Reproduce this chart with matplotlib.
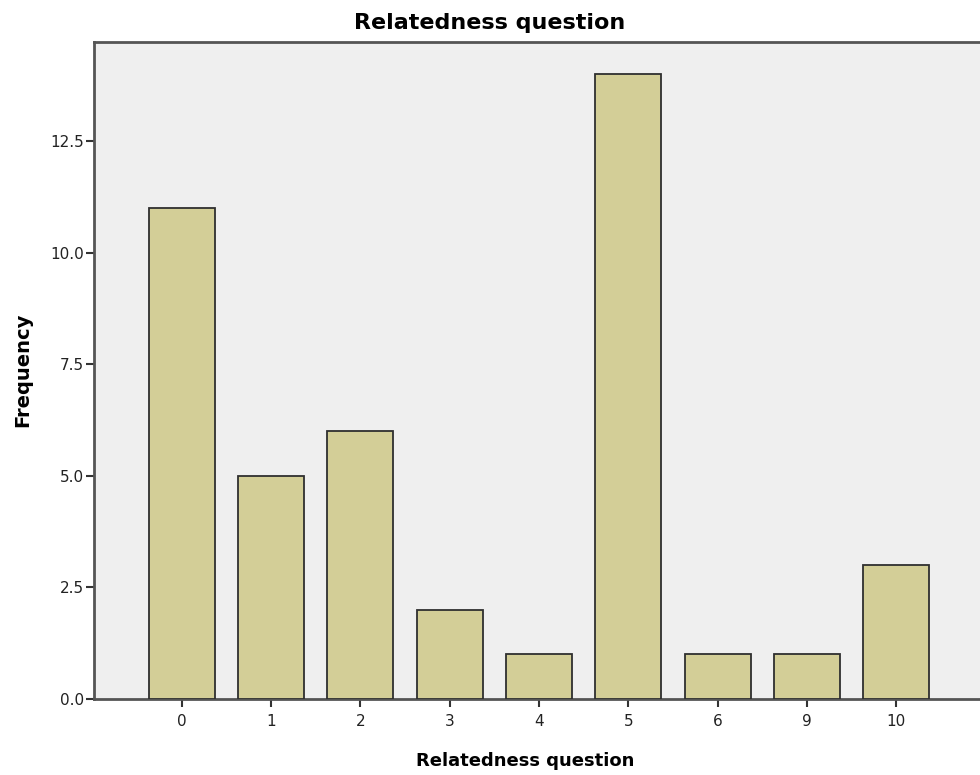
import numpy as np
import matplotlib
matplotlib.use('Agg')
from matplotlib import pyplot as plt

categories = ['0', '1', '2', '3', '4', '5', '6', '9', '10']
frequency = [11, 5, 6, 2, 1, 14, 1, 1, 3]
y_ticks = [0.0, 2.5, 5.0, 7.5, 10.0, 12.5]

plt.rcParams['font.family'] = ['DejaVu Sans']

fig = plt.figure(figsize=(9.8, 7.75), dpi=100)
ax = fig.add_axes([94 / 980, 76 / 775, 1 - 94 / 980, (699 - 42) / 775])
ax.set_facecolor('#efefef')

x = np.arange(len(categories))
ax.bar(x, frequency, width=0.74, color='#d3ce97', edgecolor='#2f2f2f', linewidth=1.3, zorder=3)

ax.set_xlim(-0.985, 8.94)
ax.set_ylim(0, 14.72)
ax.set_xticks(x)
ax.set_xticklabels(categories)
ax.set_yticks(y_ticks)
ax.set_yticklabels(['%.1f' % v for v in y_ticks])

for side in ['left', 'top', 'bottom']:
    ax.spines[side].set_color('#555555')
    ax.spines[side].set_linewidth(2)
ax.spines['right'].set_visible(False)
ax.tick_params(axis='both', direction='out', length=6, width=1.5, color='#333333',
               labelsize=11, labelcolor='#222222')
ax.tick_params(axis='x', pad=5)
ax.tick_params(axis='y', pad=1)

# titles placed in figure coords (title is centred on the figure, not the axes)
fig.text(490 / 980, 1 - 29 / 775, 'Relatedness question', fontsize=16, fontweight='bold',
         ha='center', va='baseline')
fig.text(525.5 / 980, 9 / 775, 'Relatedness question', fontsize=13, fontweight='bold',
         ha='center', va='baseline')
fig.text(23 / 980, 1 - 370 / 775, 'Frequency', fontsize=14, fontweight='bold',
         rotation=90, ha='center', va='center')

fig.savefig('out.png', dpi=100)
